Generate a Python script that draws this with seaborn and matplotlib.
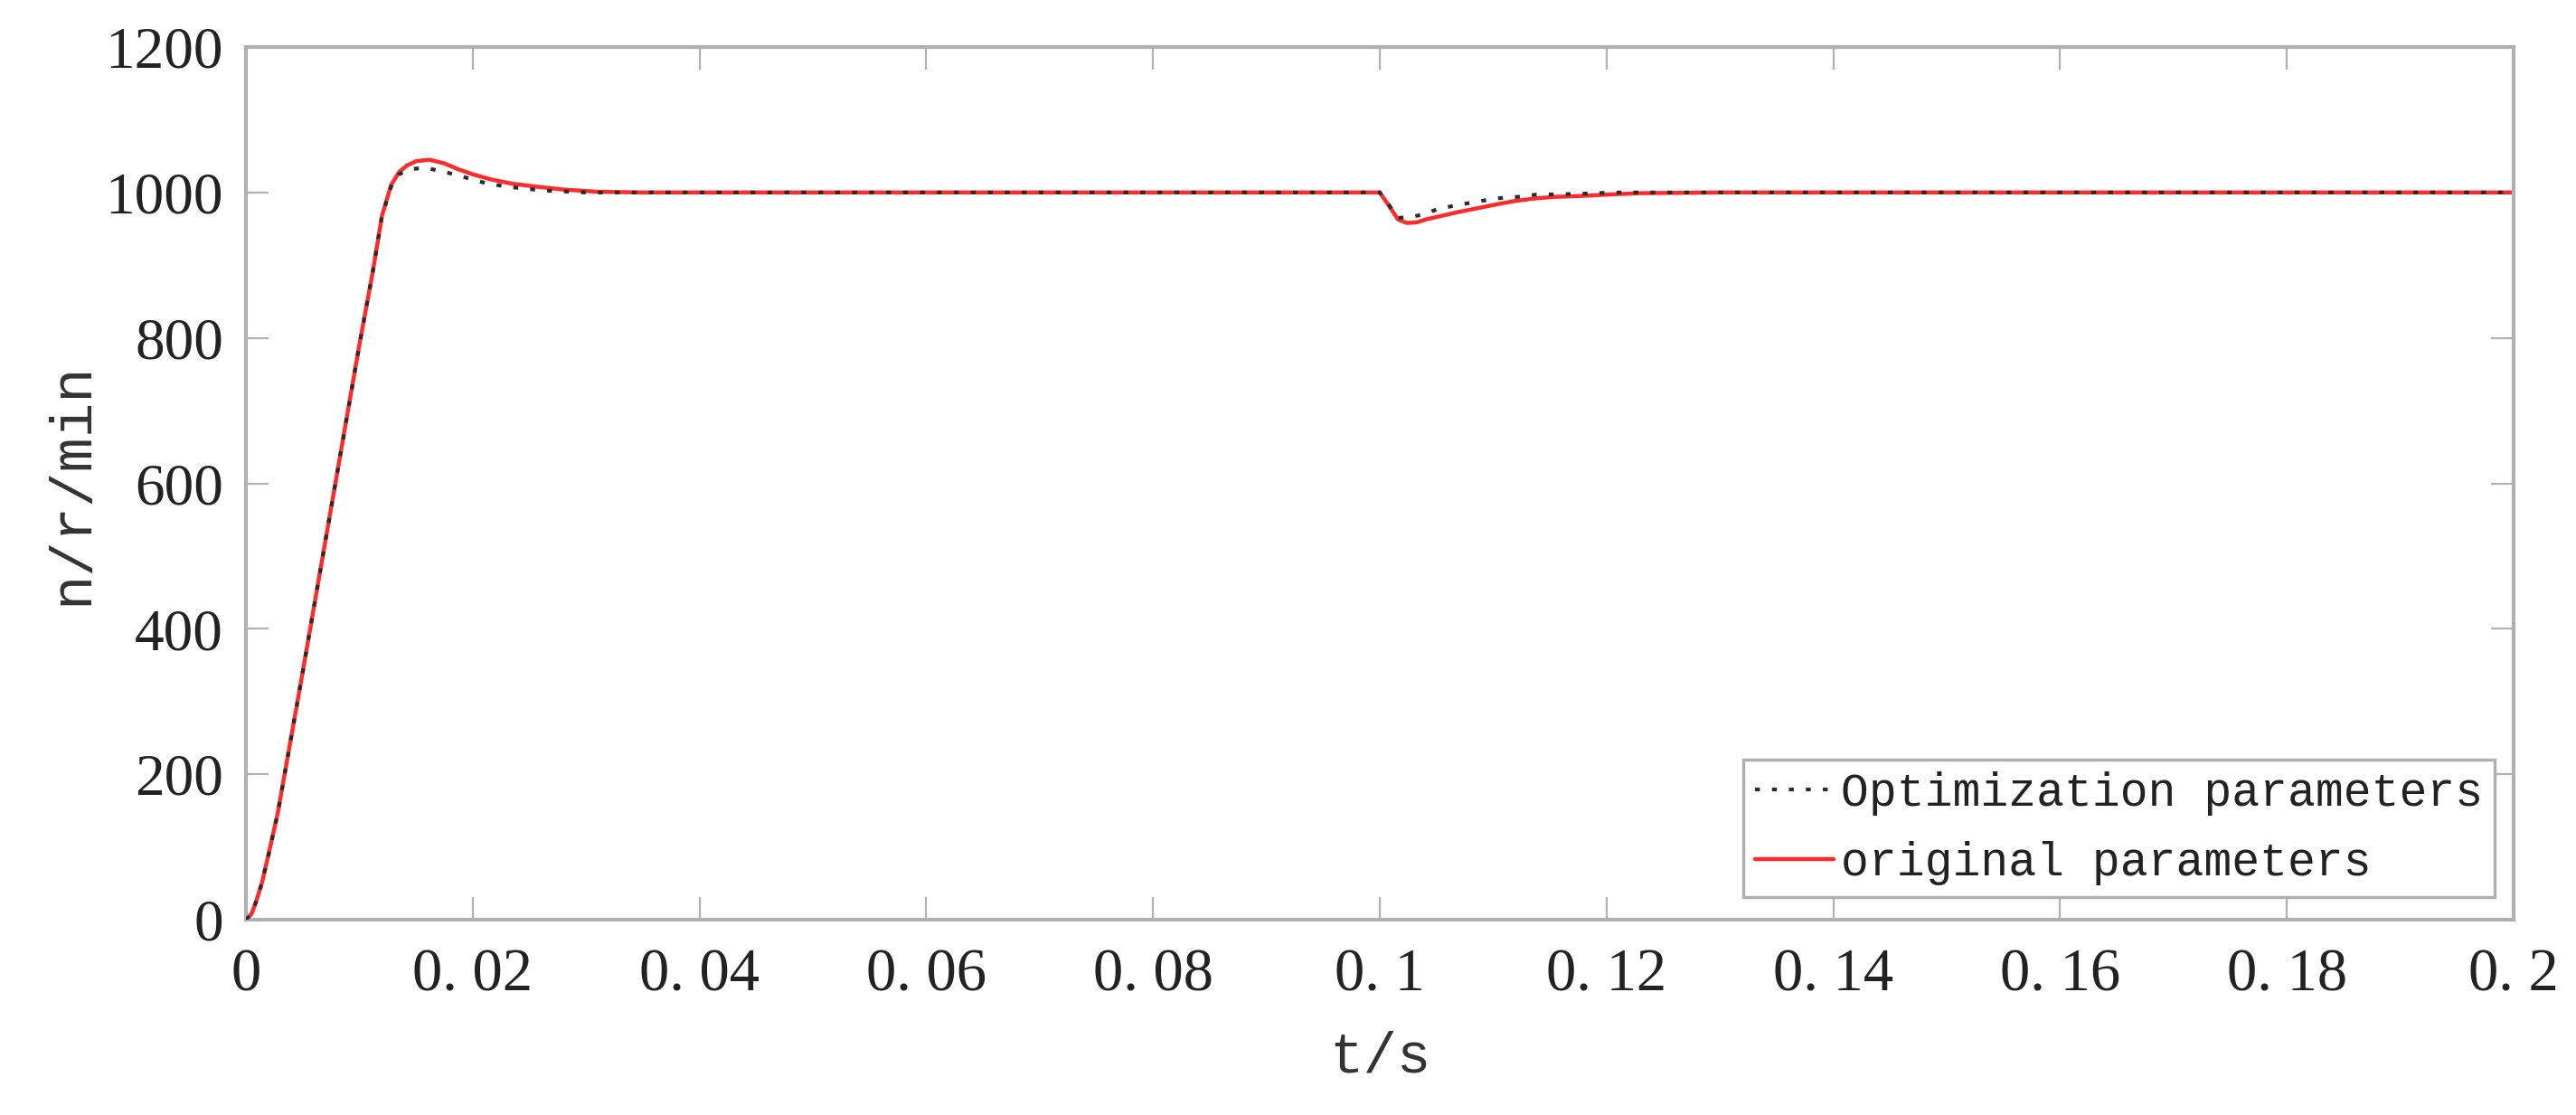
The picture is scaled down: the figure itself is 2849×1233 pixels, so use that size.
import matplotlib
matplotlib.use("Agg")
import numpy as np
import pandas as pd
import seaborn as sns
import matplotlib.pyplot as plt

# speed response (t in s, n in r/min)
t_orig = [0, 0.0005, 0.0009, 0.0014, 0.002, 0.0028, 0.005, 0.0075, 0.01, 0.0112,
          0.012, 0.0128, 0.0135, 0.0142, 0.015, 0.0162, 0.0175, 0.0187, 0.02,
          0.0216, 0.0235, 0.0256, 0.028, 0.031, 0.035, 0.1, 0.1008, 0.1016,
          0.1024, 0.1033, 0.1041, 0.1055, 0.1069, 0.1085, 0.1101, 0.1118, 0.1138,
          0.1155, 0.1175, 0.12, 0.1228, 0.13, 0.2]
n_orig = [0, 8, 25, 50, 90, 146, 340, 565, 790, 892,
          968, 1010, 1028, 1037, 1043, 1045, 1040, 1032, 1025,
          1018, 1012, 1008, 1004, 1001, 1000, 1000, 982, 963,
          958, 959, 963, 968, 973, 978, 983, 988, 992,
          994, 995, 997, 999, 1000, 1000]

t_opt = [0, 0.0005, 0.0009, 0.0014, 0.002, 0.0028, 0.005, 0.0075, 0.01, 0.0112,
         0.012, 0.0128, 0.0135, 0.0145, 0.0158, 0.0176, 0.0195, 0.0211, 0.023,
         0.026, 0.030, 0.1, 0.1008, 0.1016, 0.1026, 0.1036, 0.1053, 0.107,
         0.1088, 0.1104, 0.1122, 0.1138, 0.1175, 0.1206, 0.2]
n_opt = [0, 8, 25, 50, 90, 146, 340, 565, 790, 892,
         968, 1008, 1025, 1032, 1034, 1028, 1020, 1013, 1008,
         1003, 1000, 1000, 983, 965, 966, 969, 978, 983,
         988, 992, 994, 997, 998, 1000, 1000]

x_ticks = [0, 0.02, 0.04, 0.06, 0.08, 0.1, 0.12, 0.14, 0.16, 0.18, 0.2]
x_tick_labels = ["0", "0. 02", "0. 04", "0. 06", "0. 08", "0. 1",
                 "0. 12", "0. 14", "0. 16", "0. 18", "0. 2"]
y_ticks = [0, 200, 400, 600, 800, 1000, 1200]

sns.set_theme(style="ticks")
plt.rcParams["font.family"] = ["Liberation Serif", "DejaVu Serif"]

W, H = 2849, 1233
fig = plt.figure(figsize=(W / 100, H / 100), dpi=100)
ax = fig.add_axes([272 / W, 1 - 1017 / H, (2780 - 272) / W, (1017 - 52) / H])

orig = pd.DataFrame({"t": t_orig, "n": n_orig})
opt = pd.DataFrame({"t": t_opt, "n": n_opt})

sns.lineplot(data=orig, x="t", y="n", ax=ax, color="#ff2a2a", linewidth=3.2,
             estimator=None, sort=False, zorder=2, label="original parameters")
sns.lineplot(data=opt, x="t", y="n", ax=ax, color="#2b2b2b", linewidth=3.0,
             estimator=None, sort=False, zorder=3, dashes=False,
             label="Optimization parameters")
ax.lines[1].set_dashes([1.3, 3.2])

ax.set_xlim(0, 0.2)
ax.set_ylim(0, 1200)
ax.set_xticks(x_ticks)
ax.set_xticklabels(x_tick_labels)
ax.set_yticks(y_ticks)

axis_grey = "#b0b0b0"
for sp in ax.spines.values():
    sp.set_visible(True)
    sp.set_color(axis_grey)
    sp.set_linewidth(3.0)
ax.tick_params(axis="both", direction="in", length=18, width=1.6, color=axis_grey,
               top=True, right=True, labelcolor="#222222")
ax.tick_params(axis="x", labelsize=48, pad=23)
ax.tick_params(axis="y", labelsize=47, pad=18)

mono = ["Liberation Mono", "DejaVu Sans Mono"]
ax.set_xlabel("t/s", fontsize=45, family=mono, color="#333333")
ax.set_ylabel("n/r/min", fontsize=46, family=mono, color="#333333")
ax.xaxis.set_label_coords(0.5, -0.127)
ax.yaxis.set_label_coords(-0.065, 0.5)

handles, labels = ax.get_legend_handles_labels()
leg = ax.legend(handles[::-1], labels[::-1], loc="lower right",
                bbox_to_anchor=(0.9916, 0.026), borderaxespad=0,
                prop={"family": mono, "size": 37}, frameon=True, fancybox=False,
                edgecolor=axis_grey, framealpha=1, handlelength=1.7,
                handletextpad=0.15, borderpad=0.25, labelspacing=0.55)
leg.get_frame().set_linewidth(2.5)
for txt in leg.get_texts():
    txt.set_color("#222222")

fig.savefig("out.png", dpi=100, facecolor="white")
